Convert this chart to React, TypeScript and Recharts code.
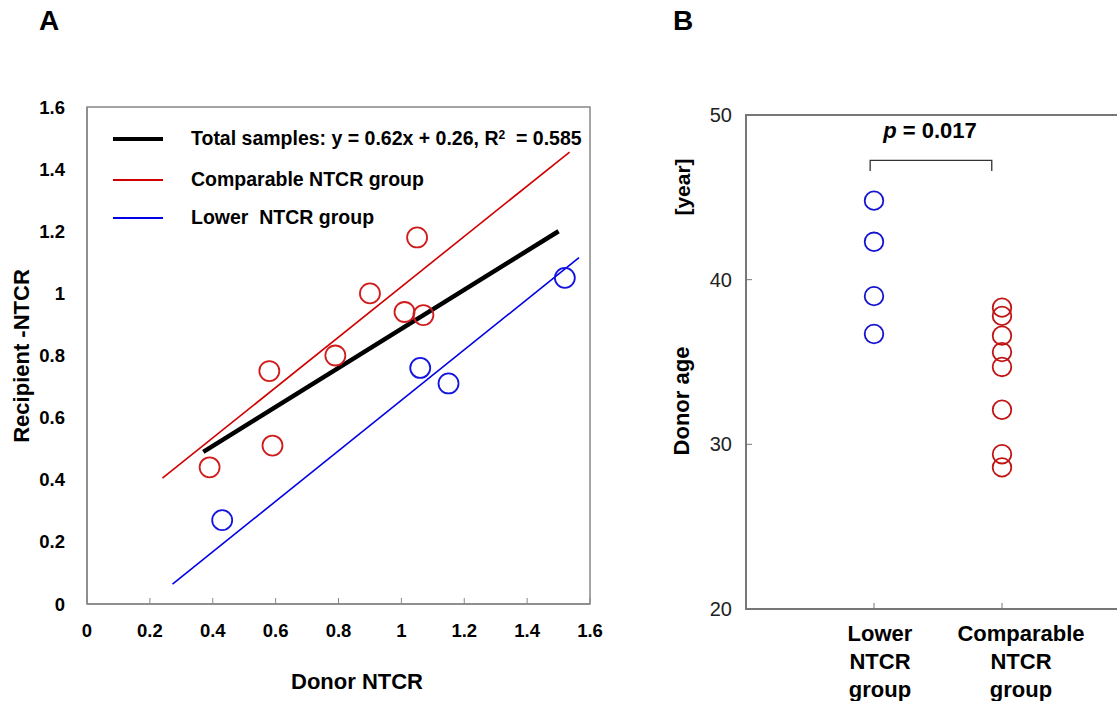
import React from 'react';
import { ScatterChart, Scatter, XAxis, YAxis, ReferenceArea } from 'recharts';

const FONT = '"Liberation Sans", Arial, sans-serif';

// Panel A: donor vs recipient NTCR
const ntcrTicks = [0, 0.2, 0.4, 0.6, 0.8, 1, 1.2, 1.4, 1.6];

const comparablePoints = [
  { x: 0.39, y: 0.44 },
  { x: 0.58, y: 0.75 },
  { x: 0.59, y: 0.51 },
  { x: 0.79, y: 0.8 },
  { x: 0.9, y: 1.0 },
  { x: 1.01, y: 0.94 },
  { x: 1.05, y: 1.18 },
  { x: 1.07, y: 0.93 },
];

const lowerPoints = [
  { x: 0.43, y: 0.27 },
  { x: 1.06, y: 0.76 },
  { x: 1.15, y: 0.71 },
  { x: 1.52, y: 1.05 },
];

// regression line end points
const totalFit = [{ x: 0.37, y: 0.49 }, { x: 1.5, y: 1.2 }];
const comparableFit = [{ x: 0.24, y: 0.405 }, { x: 1.535, y: 1.455 }];
const lowerFit = [{ x: 0.272, y: 0.064 }, { x: 1.565, y: 1.115 }];

const legendItems = [
  { label: 'Total samples: y = 0.62x + 0.26, R', sup: '2', tail: '  = 0.585', color: '#000000', width: 4 },
  { label: 'Comparable NTCR group', sup: '', tail: '', color: '#d00000', width: 2 },
  { label: 'Lower  NTCR group', sup: '', tail: '', color: '#0000e6', width: 2 },
];

// Panel B: donor age by group
const groupNames = [['Lower', 'NTCR', 'group'], ['Comparable', 'NTCR', 'group']];
const lowerAges = [44.8, 42.3, 39.0, 36.7];
const comparableAges = [38.3, 37.8, 36.6, 35.6, 34.7, 32.1, 29.4, 28.6];
const ageTicks = [20, 30, 40, 50];
const bracket = [
  { x: 0.97, y: 46.6 },
  { x: 0.97, y: 47.25 },
  { x: 1.92, y: 47.25 },
  { x: 1.92, y: 46.6 },
];

const lowerData = lowerAges.map((y) => ({ x: 1, y }));
const comparableData = comparableAges.map((y) => ({ x: 2, y }));

const ring = (color: string, r: number) => (props: any) => (
  <circle cx={props.cx} cy={props.cy} r={r} fill="none" stroke={color} strokeWidth={1.8} />
);
const noDot = () => <g />;

const GroupTick = (props: any) => {
  const { x, y, payload } = props;
  const lines = groupNames[payload.value - 1] || [];
  const dx = payload.value === 1 ? 6 : 19;
  return (
    <text x={x + dx} y={y + 32} textAnchor="middle" fontFamily={FONT} fontWeight="bold" fontSize={22} fill="#000">
      {lines.map((l, i) => (
        <tspan key={l + i} x={x + dx} dy={i === 0 ? 0 : 28}>{l}</tspan>
      ))}
    </text>
  );
};

const abs = (cx: number, cy: number, size: number, rotate = false): React.CSSProperties => ({
  position: 'absolute',
  left: cx,
  top: cy,
  transform: `translate(-50%, -50%)${rotate ? ' rotate(-90deg)' : ''}`,
  fontFamily: FONT,
  fontWeight: 'bold',
  fontSize: size,
  whiteSpace: 'pre',
  lineHeight: 1,
  color: '#000',
});

export default function App() {
  return (
    <div style={{ position: 'absolute', left: 0, top: 0, width: 1117, height: 701, overflow: 'hidden', background: '#fff' }}>
      <div style={{ position: 'absolute', left: 0, top: 0 }}>
        <ScatterChart width={620} height={701} margin={{ top: 107, right: 30, bottom: 67, left: 0 }}>
          <XAxis
            type="number"
            dataKey="x"
            domain={[0, 1.6]}
            ticks={ntcrTicks}
            height={30}
            tickSize={-6}
            tickMargin={26}
            axisLine={{ stroke: '#888', strokeWidth: 1.5 }}
            tickLine={{ stroke: '#888' }}
            tick={{ fill: '#000', fontSize: 18.5, fontWeight: 'bold', fontFamily: FONT }}
          />
          <YAxis
            type="number"
            dataKey="y"
            domain={[0, 1.6]}
            ticks={ntcrTicks}
            width={87}
            tickLine={false}
            tickSize={0}
            tickMargin={22}
            axisLine={{ stroke: '#888', strokeWidth: 1.5 }}
            tick={{ fill: '#000', fontSize: 18.5, fontWeight: 'bold', fontFamily: FONT }}
          />
          <ReferenceArea x1={0} x2={1.6} y1={0} y2={1.6} fill="none" stroke="#888" strokeWidth={1.5} ifOverflow="visible" />
          <Scatter data={comparableFit} line={{ stroke: '#d00000', strokeWidth: 1.6 }} shape={noDot} isAnimationActive={false} />
          <Scatter data={lowerFit} line={{ stroke: '#0000e6', strokeWidth: 1.6 }} shape={noDot} isAnimationActive={false} />
          <Scatter data={totalFit} line={{ stroke: '#000', strokeWidth: 4.5 }} shape={noDot} isAnimationActive={false} />
          <Scatter data={comparablePoints} shape={ring('#d01c1c', 10)} isAnimationActive={false} />
          <Scatter data={lowerPoints} shape={ring('#1414e0', 10)} isAnimationActive={false} />
        </ScatterChart>
      </div>

      <div style={{ position: 'absolute', left: 0, top: 0 }}>
        {legendItems.map((it, i) => {
          const cy = [139, 180, 218][i];
          return (
            <React.Fragment key={it.label}>
              <div style={{ position: 'absolute', left: 113, top: cy - it.width / 2, width: 50, height: it.width, background: it.color }} />
              <div style={{ ...abs(0, cy, 19.5), left: 191, transform: 'translate(0, -50%)' }}>
                {it.label}
                {it.sup && <sup style={{ fontSize: 12, verticalAlign: 'top', lineHeight: 1 }}>{it.sup}</sup>}
                {it.tail}
              </div>
            </React.Fragment>
          );
        })}
      </div>

      <div style={{ position: 'absolute', left: 660, top: 0 }}>
        <ScatterChart width={470} height={701} margin={{ top: 115, right: 0, bottom: 32, left: 0 }}>
          <XAxis
            type="number"
            dataKey="x"
            domain={[0, 3]}
            ticks={[1, 2]}
            height={60}
            tickSize={-6}
            tickMargin={6}
            axisLine={{ stroke: '#777', strokeWidth: 2 }}
            tickLine={{ stroke: '#777' }}
            tick={<GroupTick />}
          />
          <YAxis
            type="number"
            dataKey="y"
            domain={[20, 50]}
            ticks={ageTicks}
            width={86}
            tickSize={-6}
            tickMargin={20}
            axisLine={{ stroke: '#777', strokeWidth: 2 }}
            tickLine={{ stroke: '#777' }}
            tick={{ fill: '#222', fontSize: 20, fontFamily: FONT }}
          />
          <ReferenceArea x1={0} x2={3} y1={20} y2={50} fill="none" stroke="#777" strokeWidth={2} ifOverflow="visible" />
          <Scatter data={bracket} line={{ stroke: '#333', strokeWidth: 1.3 }} shape={noDot} isAnimationActive={false} />
          <Scatter data={lowerData} shape={ring('#1414d0', 9.3)} isAnimationActive={false} />
          <Scatter data={comparableData} shape={ring('#c01414', 9.3)} isAnimationActive={false} />
        </ScatterChart>
      </div>

      <div style={abs(49, 21, 28)}>A</div>
      <div style={abs(683, 21, 28)}>B</div>
      <div style={abs(22, 356, 22, true)}>Recipient -NTCR</div>
      <div style={abs(357, 682, 22)}>Donor NTCR</div>
      <div style={abs(682, 401, 22, true)}>Donor age</div>
      <div style={abs(682, 187, 21, true)}>[year]</div>
      <div style={abs(930, 131, 22)}>
        <i>p</i> = 0.017
      </div>
    </div>
  );
}
